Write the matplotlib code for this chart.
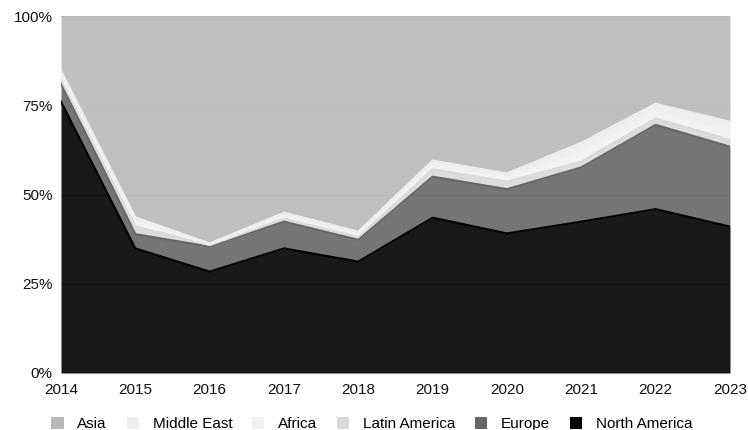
import matplotlib
matplotlib.use("Agg")
import matplotlib.pyplot as plt
import numpy as np
from matplotlib.patches import Patch

years = [2014, 2015, 2016, 2017, 2018, 2019, 2020, 2021, 2022, 2023]
north_america = [76.0, 34.9, 28.4, 34.9, 31.2, 43.5, 39.1, 42.4, 45.9, 41.0]
europe = [5.1, 4.0, 7.0, 7.5, 6.1, 11.5, 12.4, 15.2, 23.6, 22.4]
latin_america = [1.0, 2.2, 0.4, 0.8, 0.8, 2.1, 2.1, 1.6, 1.8, 1.9]
africa = [1.2, 1.2, 0.3, 0.8, 0.7, 1.1, 1.1, 2.5, 1.8, 2.3]
middle_east = [1.4, 1.3, 0.2, 0.9, 0.8, 1.3, 1.2, 2.8, 2.3, 2.8]
asia = [15.3, 56.4, 63.7, 55.1, 60.4, 40.5, 44.1, 35.5, 24.6, 29.6]

series = [
    ("North America", north_america, "#000000"),
    ("Europe", europe, "#666666"),
    ("Latin America", latin_america, "#d9d9d9"),
    ("Africa", africa, "#f2f2f2"),
    ("Middle East", middle_east, "#eeeeee"),
    ("Asia", asia, "#b8b8b8"),
]

plt.rcParams['font.family'] = ['Liberation Sans', 'DejaVu Sans']

fig = plt.figure(figsize=(7.48, 4.30), dpi=100)
ax = fig.add_axes([61/748, 1-373/430, (730-61)/748, (373-16)/430])

x = np.array(years, dtype=float)
data = np.array([s[1] for s in series], dtype=float)
data = data / data.sum(axis=0) * 100.0
cum = np.cumsum(data, axis=0)
base = np.zeros(len(years))
for i, (name, _, col) in enumerate(series):
    top = cum[i]
    ax.fill_between(x, base, top, color=col, alpha=0.9, linewidth=0, zorder=2)
    ax.plot(x, top, color=col, linewidth=1.5, zorder=3 + 0.1 * i)
    base = top

for v in [25, 50, 75]:
    ax.axhline(v, color="#cccccc", linewidth=0.8, zorder=1)

ax.set_xlim(2014, 2023)
ax.set_ylim(0, 100)
ax.set_xticks(years)
ax.set_xticklabels([str(y) for y in years])
ax.set_yticks([0, 25, 50, 75, 100])
ax.set_yticklabels(["0%", "25%", "50%", "75%", "100%"])
ax.tick_params(length=0, labelsize=11, colors="#111111", pad=6)
ax.tick_params(axis='x', pad=7)
for sp in ax.spines.values():
    sp.set_visible(False)

legend_order = ["Asia", "Middle East", "Africa", "Latin America", "Europe", "North America"]
cmap = {n: c for n, _, c in series}
handles = [Patch(facecolor=cmap[n], edgecolor='none') for n in legend_order]
fig.legend(handles, legend_order, loc='center', bbox_to_anchor=(372/748, 1-424/430),
           ncol=6, frameon=False, fontsize=11, handlelength=0.8, handleheight=0.8,
           columnspacing=1.3, handletextpad=0.9, borderpad=0)

fig.savefig("out.png", dpi=100)
